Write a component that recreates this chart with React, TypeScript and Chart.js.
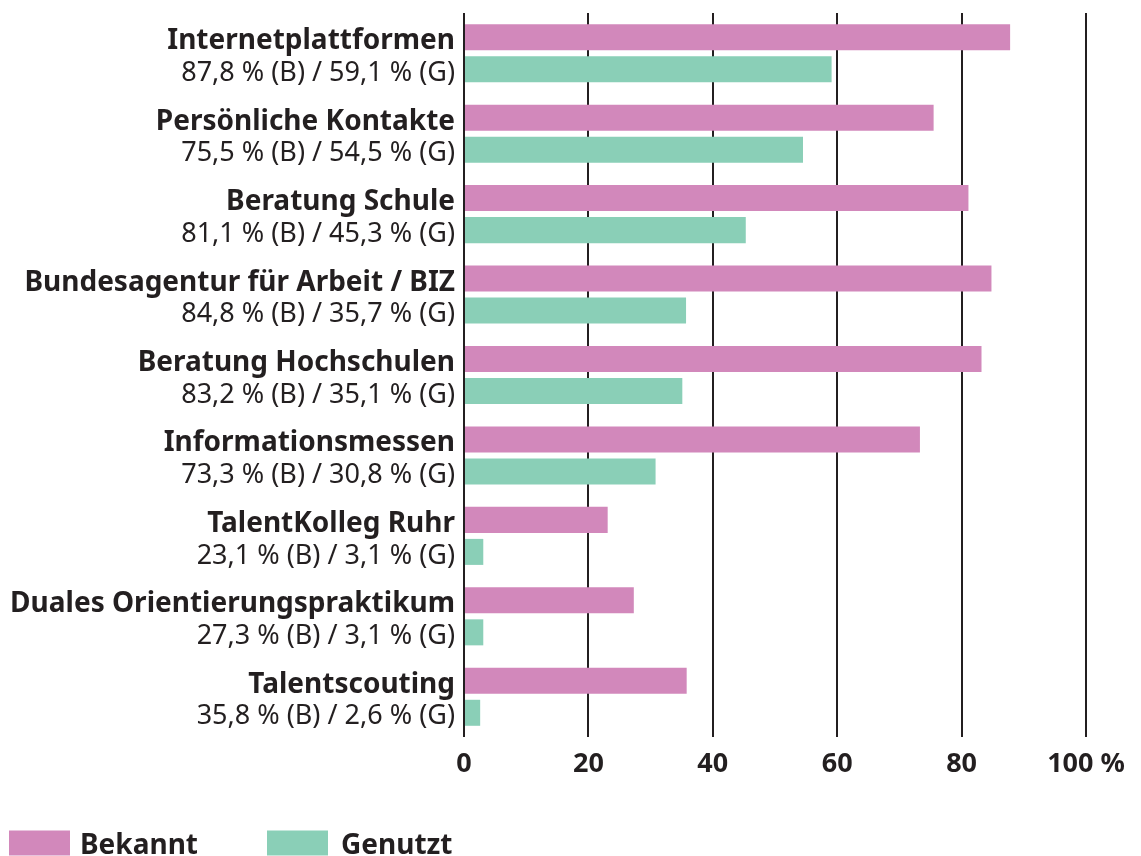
import React, { useEffect, useRef } from "react";
import { Chart, registerables } from "chart.js";

Chart.register(...registerables);

const categories = [
  "Internetplattformen",
  "Persönliche Kontakte",
  "Beratung Schule",
  "Bundesagentur für Arbeit / BIZ",
  "Beratung Hochschulen",
  "Informationsmessen",
  "TalentKolleg Ruhr",
  "Duales Orientierungspraktikum",
  "Talentscouting",
];
const bekannt = [87.8, 75.5, 81.1, 84.8, 83.2, 73.3, 23.1, 27.3, 35.8];
const genutzt = [59.1, 54.5, 45.3, 35.7, 35.1, 30.8, 3.1, 3.1, 2.6];
const xTicks = [0, 20, 40, 60, 80, 100];
const seriesNames = ["Bekannt", "Genutzt"];
const colors = ["#d288bb", "#8acfb7"];

const TEXT = "#231f20";
const FONT = "'Noto Sans', sans-serif";

const fmt = (v: number) => v.toFixed(1).replace(".", ",");

const labelPlugin = {
  id: "twoLineLabels",
  afterDraw(chart: any) {
    const ctx = chart.ctx;
    const meta0 = chart.getDatasetMeta(0);
    const meta1 = chart.getDatasetMeta(1);
    const left = chart.chartArea.left;
    ctx.save();
    ctx.fillStyle = TEXT;
    ctx.textAlign = "right";
    ctx.textBaseline = "middle";
    categories.forEach((c, i) => {
      const y0 = meta0.data[i].y;
      const y1 = meta1.data[i].y;
      ctx.font = `bold 28px ${FONT}`;
      ctx.fillText(c, left - 9, y0 + 4);
      ctx.font = `27px ${FONT}`;
      ctx.fillText(
        `${fmt(bekannt[i])} % (B) / ${fmt(genutzt[i])} % (G)`,
        left - 9,
        y1 + 4
      );
    });
    // legend
    const legendY = 843;
    let x = 9;
    chart.data.datasets.forEach((ds: any, k: number) => {
      ctx.fillStyle = ds.backgroundColor;
      ctx.fillRect(x, legendY - 12.5, 61, 25);
      ctx.fillStyle = TEXT;
      ctx.textAlign = "left";
      ctx.font = `bold 28px ${FONT}`;
      ctx.fillText(ds.label, x + 71 + k * 3, legendY + 3);
      x += 258;
    });
    ctx.restore();
  },
};

export default function App() {
  const ref = useRef<HTMLCanvasElement>(null);
  useEffect(() => {
    if (!ref.current) return;
    const chart = new Chart(ref.current, {
      type: "bar",
      data: {
        labels: categories,
        datasets: [
          {
            label: seriesNames[0],
            data: bekannt,
            backgroundColor: colors[0],
            categoryPercentage: 0.796,
            barPercentage: 0.8125,
          },
          {
            label: seriesNames[1],
            data: genutzt,
            backgroundColor: colors[1],
            categoryPercentage: 0.796,
            barPercentage: 0.8125,
          },
        ],
      },
      options: {
        indexAxis: "y",
        animation: false,
        responsive: false,
        maintainAspectRatio: false,
        layout: { padding: { top: 13, right: 55, left: 0, bottom: 0 } },
        plugins: {
          legend: { display: false },
          tooltip: { enabled: false },
        },
        scales: {
          x: {
            min: 0,
            max: 100,
            afterBuildTicks: (scale: any) => {
              scale.ticks = xTicks.map((v) => ({ value: v }));
            },
            afterFit: (scale: any) => {
              scale.height = 119;
            },
            border: { display: false },
            grid: {
              color: TEXT,
              lineWidth: 2,
              drawTicks: false,
            },
            ticks: {
              padding: 11,
              color: TEXT,
              font: { family: FONT, size: 27, weight: "bold" },
              callback: (v: any) => (v === 100 ? "100 %" : String(v)),
            },
          },
          y: {
            afterFit: (scale: any) => {
              scale.width = 464;
            },
            border: { display: false },
            grid: { display: false, drawTicks: false },
            ticks: { display: false },
          },
        },
      },
      plugins: [labelPlugin],
    } as any);
    return () => chart.destroy();
  }, []);
  return (
    <div style={{ position: "absolute", left: 0, top: 0, width: 1141, height: 856, background: "#fff" }}>
      <canvas ref={ref} width={1141} height={856} style={{ width: 1141, height: 856 }} />
    </div>
  );
}
